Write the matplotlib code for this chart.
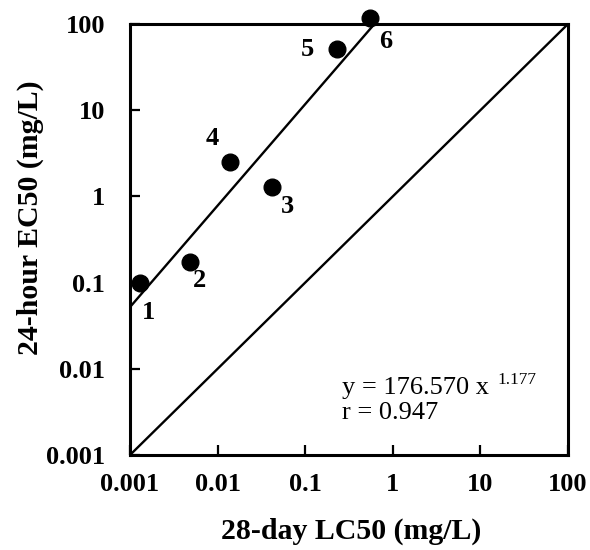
import numpy as np
import matplotlib
matplotlib.use("Agg")
import matplotlib.pyplot as plt

plt.rcParams.update({
    "font.family": "serif", "font.serif": ["Liberation Serif", "DejaVu Serif"],
})

# compounds 1..6: 28-day LC50 vs 24-hour EC50 (mg/L)
labels = ["1", "2", "3", "4", "5", "6"]
lc50 = [0.0013, 0.0048, 0.042, 0.0139, 0.231, 0.55]
ec50 = [0.099, 0.173, 1.29, 2.5, 51.0, 117.0]
# label offsets in points
offs = [(6, -21), (7, -13), (11, -14), (-13, 17), (-21, 0), (11, -17)]

fit_a, fit_b, fit_r = 176.570, 1.177, 0.947
fit_x = [0.001, 0.62]
decades = [0.001, 0.01, 0.1, 1, 10, 100]
tick_txt = ["0.001", "0.01", "0.1", "1", "10", "100"]

fig = plt.figure(figsize=(5.9, 5.5), dpi=100)
ax = fig.add_axes([130 / 590, 1 - 455 / 550, 438 / 590, 431 / 550])
ax.set_xscale("log"); ax.set_yscale("log")
ax.set_xlim(0.001, 100); ax.set_ylim(0.001, 100)

# 1:1 line
ax.plot([0.001, 100], [0.001, 100], color="black", lw=1.7)
# regression line
fx = np.array(fit_x)
ax.plot(fx, fit_a * fx ** fit_b, color="black", lw=1.7)

ax.plot(lc50, ec50, "o", color="black", ms=12, clip_on=False, zorder=4)
for lab, x, y, (dx, dy) in zip(labels, lc50, ec50, offs):
    ax.annotate(lab, (x, y), xytext=(dx, dy), textcoords="offset points",
                ha="center", va="center", fontsize=19, fontweight="bold",
                annotation_clip=False)

ax.text(0.483, 0.155, f"y = {fit_a:.3f} x", transform=ax.transAxes,
        fontsize=19, ha="left", va="center")
ax.text(0.84, 0.174, f"{fit_b:.3f}", transform=ax.transAxes,
        fontsize=12.5, ha="left", va="center")
ax.text(0.483, 0.098, f"r = {fit_r:.3f}", transform=ax.transAxes,
        fontsize=19, ha="left", va="center")

ax.minorticks_off()
ax.set_xticks(decades); ax.set_xticklabels(tick_txt)
ax.set_yticks(decades); ax.set_yticklabels(tick_txt)
ax.tick_params(direction="in", length=7, width=1.6, labelsize=19)
ax.tick_params(axis="x", pad=13)
ax.tick_params(axis="y", pad=18)
for t in ax.get_xticklabels() + ax.get_yticklabels():
    t.set_fontweight("bold")
for s in ax.spines.values():
    s.set_linewidth(2.2)

ax.set_xlabel("28-day LC50 (mg/L)", fontsize=21.5, fontweight="bold")
ax.set_ylabel("24-hour EC50 (mg/L)", fontsize=21.5, fontweight="bold")
ax.xaxis.set_label_coords(0.505, -0.145)
ax.yaxis.set_label_coords(-0.197, 0.55)

fig.savefig("out.png", dpi=100)
